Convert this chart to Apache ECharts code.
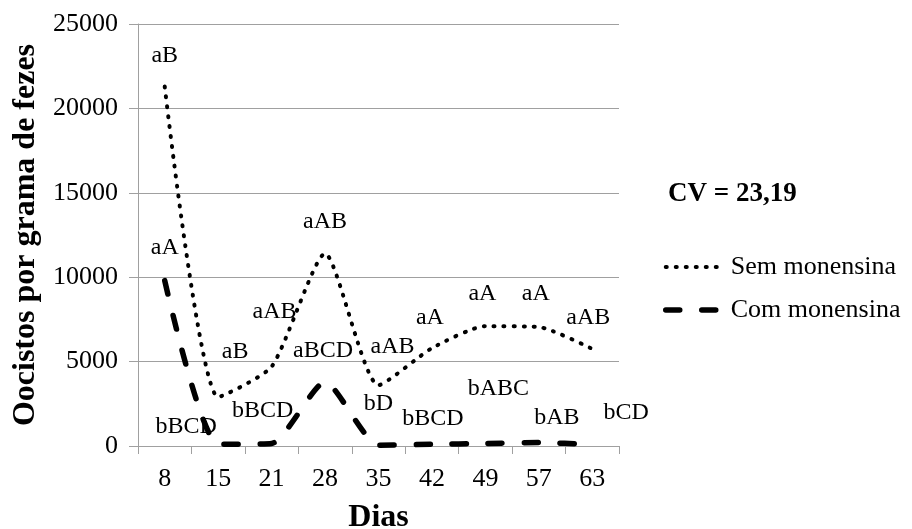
<!DOCTYPE html>
<html>
<head>
<meta charset="utf-8">
<script src="https://cdn.jsdelivr.net/npm/echarts@6/dist/echarts.min.js"></script>
<style>
  html, body { margin: 0; padding: 0; background: #fff; }
  #main { width: 912px; height: 529px; }
</style>
</head>
<body>
<div id="main"></div>
<script>
const dias = ['8', '15', '21', '28', '35', '42', '49', '57', '63'];
const semMonensina = [21300, 2900, 4700, 11400, 3600, 5800, 7100, 7050, 5750];
const comMonensina = [9800, 100, 150, 3800, 50, 100, 150, 200, 100];
const semLetras = ['aB', 'aB', 'aAB', 'aAB', 'aAB', 'aA', 'aA', 'aA', 'aAB'];
const comLetras = ['aA', 'bBCD', 'bBCD', 'aBCD', 'bD', 'bBCD', 'bABC', 'bAB', 'bCD'];

// where each letter sits relative to its point (px)
const semOffsets = [[0, -31], [17, -45], [3, -55], [0, -32], [14, -39], [-2, -30], [-3, -32], [-3, -33], [-4, -31]];
const comOffsets = [[0, -33], [-32, -18], [-9, -33], [-2, -31], [0, -41], [1, -26], [13, -55], [18, -25], [34, -32]];

const serif = 'Liberation Serif';
const gray = '#a0a0a0';

const semLine = { color: '#000', width: 4, type: [1, 9], cap: 'round' };
const comLine = { color: '#000', width: 5.5, type: [14, 22], cap: 'round' };

const chart = echarts.init(document.getElementById('main'));

function withLabels(values, letras, offsets) {
  return values.map((v, i) => ({
    value: v,
    label: { formatter: letras[i], offset: offsets[i] }
  }));
}

const labelStyle = {
  show: true,
  position: 'inside',
  color: '#000',
  fontFamily: serif,
  fontSize: 24
};

const option = {
  animation: false,
  backgroundColor: '#fff',
  grid: { left: 138, right: 293, top: 24, bottom: 83, outerBoundsMode: 'none', containLabel: false },
  graphic: [{
    type: 'text',
    left: 668,
    top: 181,
    style: {
      text: 'CV = 23,19',
      font: 'bold 27px "Liberation Serif"',
      fill: '#000'
    }
  }],
  legend: {
    orient: 'vertical',
    left: 658,
    top: 249,
    itemWidth: 60,
    itemHeight: 16,
    itemGap: 17,
    data: [
      { name: 'Sem monensina', lineStyle: semLine },
      { name: 'Com monensina', lineStyle: comLine }
    ],
    textStyle: { fontFamily: serif, fontSize: 26, color: '#000' }
  },
  xAxis: {
    type: 'category',
    data: dias,
    boundaryGap: true,
    name: 'Dias',
    nameLocation: 'middle',
    nameGap: 56,
    nameTextStyle: { fontFamily: serif, fontSize: 32, fontWeight: 'bold', color: '#000' },
    axisLine: { lineStyle: { color: gray, width: 1 } },
    axisTick: { show: true, length: 8, lineStyle: { color: gray } },
    axisLabel: { fontFamily: serif, fontSize: 26, color: '#000', margin: 20 }
  },
  yAxis: {
    type: 'value',
    min: 0,
    max: 25000,
    interval: 5000,
    name: 'Oocistos por grama de fezes',
    nameLocation: 'middle',
    nameGap: 94,
    nameTextStyle: { fontFamily: serif, fontSize: 32, fontWeight: 'bold', color: '#000' },
    axisLine: { show: true, lineStyle: { color: gray, width: 1 } },
    axisTick: { show: true, length: 9, lineStyle: { color: gray } },
    splitLine: { lineStyle: { color: gray, width: 1 } },
    axisLabel: { fontFamily: serif, fontSize: 26, color: '#000', margin: 20, formatter: v => String(v) }
  },
  series: [
    {
      name: 'Sem monensina',
      type: 'line',
      smooth: 0.2,
      symbol: 'circle',
      symbolSize: 1,
      itemStyle: { color: 'rgba(0,0,0,0)' },
      lineStyle: semLine,
      label: labelStyle,
      data: withLabels(semMonensina, semLetras, semOffsets)
    },
    {
      name: 'Com monensina',
      type: 'line',
      smooth: 0.2,
      symbol: 'circle',
      symbolSize: 1,
      itemStyle: { color: 'rgba(0,0,0,0)' },
      lineStyle: comLine,
      label: labelStyle,
      data: withLabels(comMonensina, comLetras, comOffsets)
    }
  ]
};

chart.setOption(option);
</script>
</body>
</html>
